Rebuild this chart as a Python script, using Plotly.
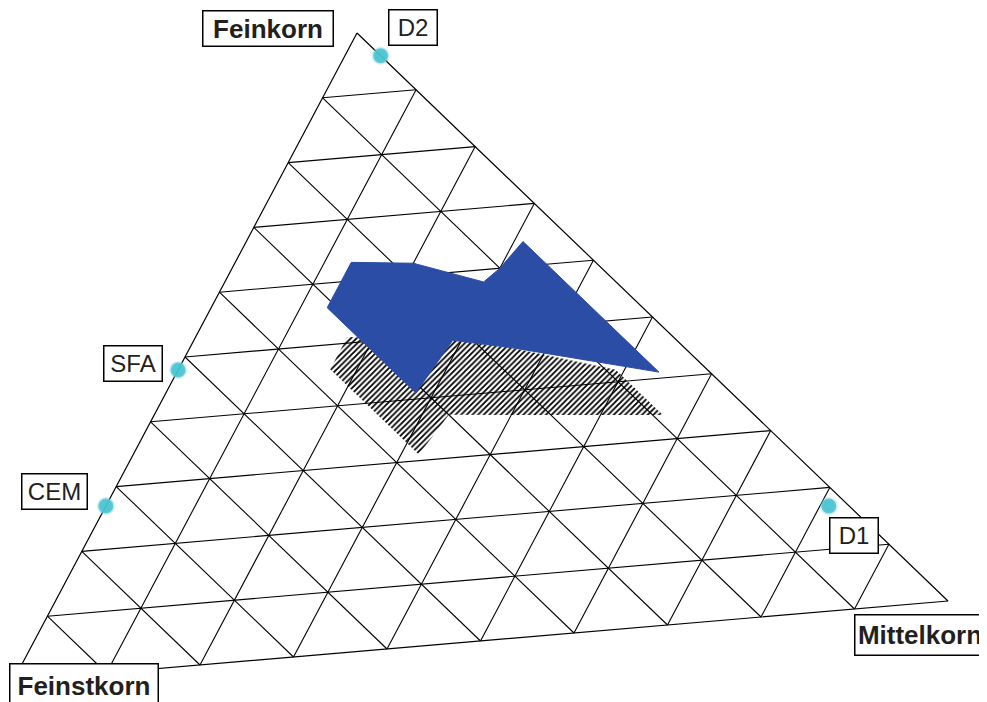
import plotly.graph_objects as go

# Dreiecksdiagramm: Feinkorn (oben), Feinstkorn (links unten), Mittelkorn (rechts unten)
corner_names = ["Feinkorn", "Feinstkorn", "Mittelkorn"]
grid_levels = [0.1, 0.2, 0.3, 0.4, 0.5, 0.6, 0.7, 0.8, 0.9]

# Ausgangsstoffe
point_names = ["D2", "SFA", "CEM", "D1"]
point_feinkorn = [0.96, 0.48, 0.27, 0.17]
point_feinstkorn = [0.00, 0.52, 0.73, 0.02]
point_mittelkorn = [0.04, 0.00, 0.00, 0.81]

# blauer Bereich
blue_feinkorn = [0.63, 0.62, 0.58, 0.60, 0.64, 0.41, 0.47, 0.49, 0.41, 0.56, 0.63]
blue_feinstkorn = [0.24, 0.18, 0.13, 0.10, 0.05, 0.05, 0.17, 0.22, 0.31, 0.31, 0.24]
blue_mittelkorn = [0.13, 0.20, 0.29, 0.30, 0.31, 0.54, 0.36, 0.29, 0.28, 0.13, 0.13]

# schraffierter Bereich
hatch_feinkorn = [0.51, 0.46, 0.31, 0.37, 0.34, 0.42, 0.47, 0.49, 0.51]
hatch_feinstkorn = [0.32, 0.37, 0.37, 0.30, 0.09, 0.09, 0.17, 0.22, 0.32]
hatch_mittelkorn = [0.17, 0.17, 0.32, 0.33, 0.57, 0.49, 0.36, 0.29, 0.17]

# Lage der Ecken (schiefes Dreieck wie im Original)
TOP = (357, 33)
LEFT = (13, 681)
RIGHT = (948, 601)


def to_xy(a, b, c):
    xs = [ai * TOP[0] + bi * LEFT[0] + ci * RIGHT[0] for ai, bi, ci in zip(a, b, c)]
    ys = [ai * TOP[1] + bi * LEFT[1] + ci * RIGHT[1] for ai, bi, ci in zip(a, b, c)]
    return xs, ys


# Gitterlinien
gx, gy = [], []
for t in grid_levels:
    for p, q in [((t, 1 - t, 0), (t, 0, 1 - t)),
                 ((1 - t, t, 0), (0, t, 1 - t)),
                 ((1 - t, 0, t), (0, 1 - t, t))]:
        x, y = to_xy([p[0], q[0]], [p[1], q[1]], [p[2], q[2]])
        gx += x + [None]
        gy += y + [None]

fig = go.Figure()

fig.add_trace(go.Scatter(x=gx, y=gy, mode='lines', line=dict(color='black', width=1.1),
                         hoverinfo='skip', showlegend=False))

ox, oy = to_xy([1, 0, 0, 1], [0, 1, 0, 0], [0, 0, 1, 0])
fig.add_trace(go.Scatter(x=ox, y=oy, mode='lines', line=dict(color='black', width=1.2),
                         hoverinfo='skip', showlegend=False))

hx, hy = to_xy(hatch_feinkorn, hatch_feinstkorn, hatch_mittelkorn)
fig.add_trace(go.Scatter(x=hx, y=hy, mode='lines', fill='toself', line=dict(width=0),
                         fillcolor='rgba(0,0,0,0)',
                         fillpattern=dict(shape='/', fgcolor='black', bgcolor='rgba(0,0,0,0)',
                                          fgopacity=1, size=4, solidity=0.45),
                         showlegend=False))

bx, by = to_xy(blue_feinkorn, blue_feinstkorn, blue_mittelkorn)
fig.add_trace(go.Scatter(x=bx, y=by, mode='lines', fill='toself', fillcolor='#2B4DA6',
                         line=dict(color='#2B4DA6', width=1), showlegend=False))

px_, py_ = to_xy(point_feinkorn, point_feinstkorn, point_mittelkorn)
fig.add_trace(go.Scatter(x=px_, y=py_, mode='markers', text=point_names,
                         marker=dict(size=15, color='rgba(72,196,210,0.95)',
                                     line=dict(color='rgba(120,210,225,0.35)', width=3)),
                         showlegend=False))

# Beschriftungen: Text, Mitte x, Mitte y, Kastenbreite, Kastenhöhe, fett
labels = [
    (corner_names[0], 268, 28, 132, 37, True),
    (point_names[0], 413, 27, 50, 37, False),
    (point_names[1], 133, 363, 60, 37, False),
    (point_names[2], 54, 491, 67, 37, False),
    (point_names[3], 854, 535, 50, 37, False),
    (corner_names[2], 920, 635, 132, 42, True),
    (corner_names[1], 84, 686, 150, 46, True),
]
for txt, x, y, w, h, bold in labels:
    fig.add_annotation(x=x, y=y, xref='x', yref='y', showarrow=False,
                       text='<b>' + txt + '</b>' if bold else txt,
                       width=w - 6, height=h - 6, align='center', valign='middle',
                       font=dict(family='Arial, Liberation Sans', size=26 if bold else 24,
                                 color='#231f20'),
                       bgcolor='white', bordercolor='black', borderwidth=1.5, borderpad=1.5)

# die Seite hat 8 px Rand, deshalb sind die Achsen um 8 verschoben
fig.update_layout(
    width=987, height=702,
    margin=dict(l=0, r=0, t=0, b=0),
    plot_bgcolor='white', paper_bgcolor='white',
    xaxis=dict(range=[8, 995], visible=False, fixedrange=True),
    yaxis=dict(range=[710, 8], visible=False, fixedrange=True),
)

fig.write_html("out.html")
